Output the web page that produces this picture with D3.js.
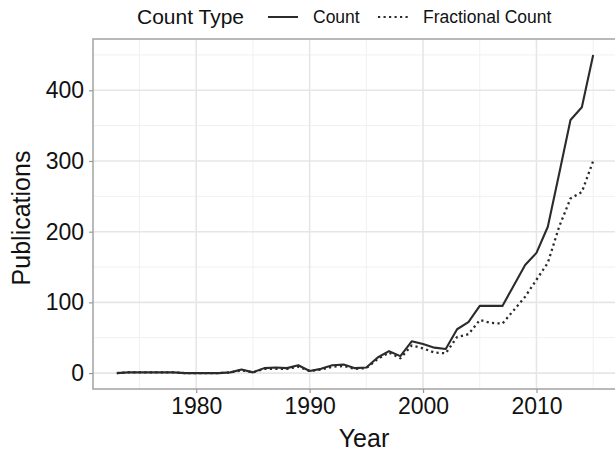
<!DOCTYPE html>
<html><head><meta charset="utf-8">
<script src="https://cdn.jsdelivr.net/npm/d3@7"></script>
<style>body{margin:0;background:#fff}svg{display:block;font-family:"Liberation Sans",Arial,sans-serif}</style>
</head><body><svg id="c" width="615" height="453"></svg>
<script>
const years = d3.range(1973, 2016);
const countValues = [0,1,1,1,1,1,0,0,0,0,1,5,1,7,8,7,11,3,6,11,12,7,8,22,31,24,45,41,36,34,62,72,95,95,95,124,153,170,207,282,358,376,450];
const fractionalValues = [0,1,1,1,1,1,0,0,0,0,1,4,1,6,6,6,9,3,5,9,10,6,7,20,29,21,39,35,29,28,51,55,75,71,70,89,108,132,156,207,247,256,300];
const xTicks = [1980,1990,2000,2010];
const xMinor = [1975,1985,1995,2005,2015];
const yTicks = [0,100,200,300,400];
const yMinor = [50,150,250,350,450];
const seriesNames = ["Count","Fractional Count"];

const svg = d3.select("#c");
const m = {l:93, t:39, r:617, b:389};
const ymax = d3.max(countValues), xr = 2015-1973;
const x = d3.scaleLinear().domain([1973 - xr*0.05, 2015 + xr*0.05]).range([m.l, m.r]);
const y = d3.scaleLinear().domain([-ymax*0.05, ymax*1.05]).range([m.b, m.t]);

const g = svg.append("g");
g.selectAll(".mx").data(xMinor).join("line").attr("x1",d=>x(d)).attr("x2",d=>x(d)).attr("y1",m.t).attr("y2",m.b).attr("stroke","#f0f0f0").attr("stroke-width",1);
g.selectAll(".my").data(yMinor).join("line").attr("y1",d=>y(d)).attr("y2",d=>y(d)).attr("x1",m.l).attr("x2",m.r).attr("stroke","#f0f0f0").attr("stroke-width",1);
g.selectAll(".gx").data(xTicks).join("line").attr("x1",d=>x(d)).attr("x2",d=>x(d)).attr("y1",m.t).attr("y2",m.b).attr("stroke","#e6e6e6").attr("stroke-width",1.6);
g.selectAll(".gy").data(yTicks).join("line").attr("y1",d=>y(d)).attr("y2",d=>y(d)).attr("x1",m.l).attr("x2",m.r).attr("stroke","#e6e6e6").attr("stroke-width",1.6);

const line = d3.line().x((d,i)=>x(years[i])).y(d=>y(d));
g.append("path").datum(fractionalValues).attr("d",line).attr("fill","none").attr("stroke","#2b2b2b").attr("stroke-width",2.3).attr("stroke-dasharray","2.2,3.3").attr("stroke-linejoin","round");
g.append("path").datum(countValues).attr("d",line).attr("fill","none").attr("stroke","#2b2b2b").attr("stroke-width",2.1).attr("stroke-linejoin","round");

g.append("rect").attr("x",m.l).attr("y",m.t).attr("width",m.r-m.l).attr("height",m.b-m.t).attr("fill","none").attr("stroke","#a8a8a8").attr("stroke-width",1.6);

const xa = svg.append("g").attr("transform",`translate(0,${m.b})`).call(d3.axisBottom(x).tickValues(xTicks).tickFormat(d3.format("d")).tickSize(4).tickPadding(5));
const ya = svg.append("g").attr("transform",`translate(${m.l},0)`).call(d3.axisLeft(y).tickValues(yTicks).tickSize(4).tickPadding(5));
[xa,ya].forEach(a=>{a.select(".domain").remove();a.selectAll("line").attr("stroke","#999").attr("stroke-width",1.2);a.selectAll("text").attr("fill","#111").attr("font-size",23).attr("font-family","Liberation Sans, Arial, sans-serif");});

svg.append("text").attr("x",364).attr("y",447).attr("text-anchor","middle").attr("font-size",25).attr("fill","#111").text("Year");
svg.append("text").attr("transform",`translate(30,${(m.t+m.b)/2 + 4}) rotate(-90)`).attr("text-anchor","middle").attr("font-size",25).attr("fill","#111").text("Publications");

const lg = svg.append("g");
lg.append("text").attr("x",137).attr("y",24).attr("font-size",21).attr("fill","#111").text("Count Type");
const items = [{n:seriesNames[0],dash:null,x0:268,tx:313},{n:seriesNames[1],dash:"2.2,3.3",x0:378,tx:423}];
items.forEach(it=>{
  lg.append("line").attr("x1",it.x0).attr("x2",it.x0+30).attr("y1",17).attr("y2",17).attr("stroke","#2b2b2b").attr("stroke-width",2).attr("stroke-dasharray",it.dash);
  lg.append("text").attr("x",it.tx).attr("y",23).attr("font-size",17.5).attr("fill","#111").text(it.n);
});
</script></body></html>
